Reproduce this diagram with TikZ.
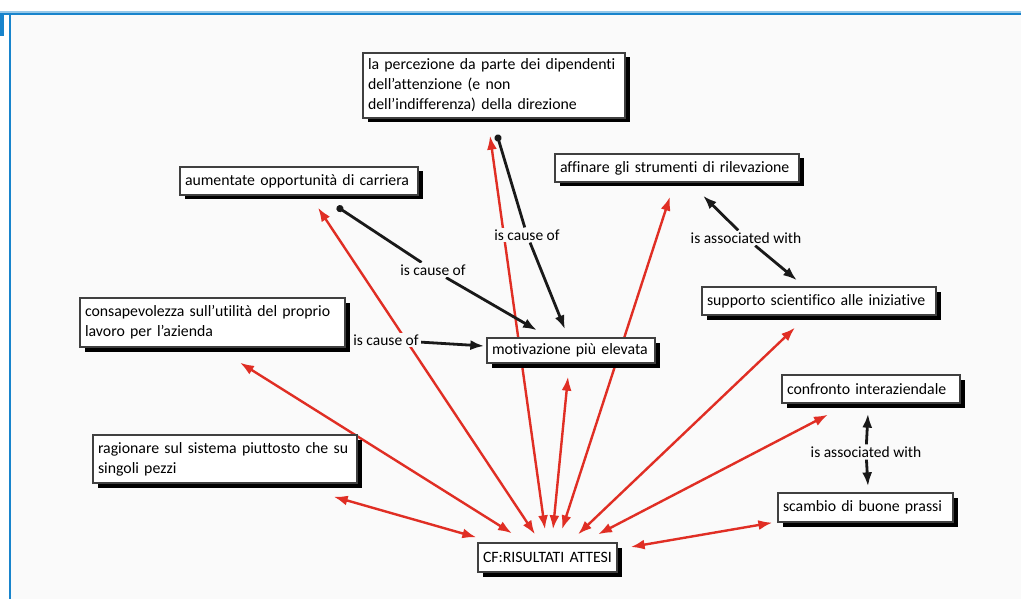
\documentclass[tikz,border=0pt]{standalone}
\usepackage{fontspec}
\setmainfont{Carlito}[Ligatures=NoCommon]
\usetikzlibrary{arrows.meta,shadows,calc}
\definecolor{cred}{RGB}{224,46,36}
\definecolor{fblue}{RGB}{24,132,204}
\definecolor{bgc}{RGB}{250,250,250}
\pgfdeclarelayer{bg}
\pgfdeclarelayer{frame}
\pgfsetlayers{frame,bg,main}
\begin{document}
\begin{tikzpicture}[x=1pt,y=-1pt,
  box/.style={draw=black!75, line width=1.3pt, fill=white, inner xsep=5pt, inner ysep=2pt,
    align=left, font=\fontsize{15.8}{20}\selectfont,
    drop shadow={shadow xshift=4.5pt, shadow yshift=-4.5pt, fill=black, opacity=1}},
  lbl/.style={font=\fontsize{15.5}{17}\selectfont, inner sep=2pt, fill=bgc},
  rline/.style={draw=cred, line width=2.4pt, {Latex[length=14pt,width=10pt]}-{Latex[length=14pt,width=10pt]}},
  bline/.style={draw=black!90, line width=2.8pt, -{Latex[length=14pt,width=10pt]}},
  dotstart/.style={draw=black!90, line width=2.8pt, {Circle[length=7pt]}-}
]
\useasboundingbox (0,0) rectangle (1021,599);
% frame
\begin{pgfonlayer}{frame}
\fill[bgc] (11,15) rectangle (1021,599);
\fill[fblue!45] (0,11.5) rectangle (1021,12.8);
\fill[fblue] (0,12.8) rectangle (1021,15);
\fill[fblue] (9,13) rectangle (11,599);
\fill[fblue] (0,13) rectangle (3.5,36);
\end{pgfonlayer}

% boxes
\node[box, text width=252pt, minimum height=65pt] (perc) at (494,85.5)
  {la percezione da parte dei dipendenti\\dell'attenzione (e non\\dell'indifferenza) della direzione};
\node[box, text width=228pt, minimum height=28pt] (aum) at (299,181) {aumentate opportunità di carriera};
\node[box, text width=234pt, minimum height=28pt] (aff) at (677,168) {affinare gli strumenti di rilevazione};
\node[box, text width=224pt, minimum height=28pt] (sup) at (819,301) {supporto scientifico alle iniziative};
\node[box, text width=255pt, minimum height=49pt] (cons) at (212.5,322.5)
  {consapevolezza sull'utilità del proprio\\lavoro per l'azienda};
\node[box, text width=254pt, minimum height=48pt] (rag) at (225,459)
  {ragionare sul sistema piuttosto che su\\singoli pezzi};
\node[box, text width=158pt, minimum height=25pt] (mot) at (571,350.5) {motivazione più elevata};
\node[box, text width=129pt, minimum height=29pt] (cf) at (547.5,557.5) {CF:RISULTATI ATTESI};
\node[box, text width=168pt, minimum height=28pt] (conf) at (871,389) {confronto interaziendale};
\node[box, text width=165pt, minimum height=29pt] (scam) at (865.5,507.5) {scambio di buone prassi};

% labels
\node[lbl] (l1) at (527,235) {is cause of};
\node[lbl] (l2) at (433,270) {is cause of};
\node[lbl] (l3) at (386,340) {is cause of};
\node[lbl] (l4) at (746,238) {is associated with};
\node[lbl] (l5) at (866,452) {is associated with};

\begin{pgfonlayer}{bg}
% red connectors
\draw[rline] ($(rag.south east)+(-24,13)$) -- ($(cf.north west)+(-1,-5)$);
\draw[rline] ($(cons.south)+(27.5,15)$) -- ($(cf.north)+(-35.5,-9)$);
\draw[rline] ($(aum.south)+(19,12)$) -- ($(cf.north)+(-12.5,-8)$);
\draw[rline] ($(perc.south)+(-4,17)$) -- ($(cf.north)+(-2.5,-13)$);
\draw[rline] ($(mot.south)+(-3,13)$) -- ($(cf.north)+(5.5,-13)$);
\draw[rline] ($(aff.south)+(-7,14)$) -- ($(cf.north)+(14.5,-13)$);
\draw[rline] ($(sup.south)+(-24,12)$) -- ($(cf.north)+(30.5,-8)$);
\draw[rline] ($(conf.south)+(-43,11)$) -- ($(cf.north)+(50.5,-8)$);
\draw[rline] ($(scam.south west)+(-5,0)$) -- ($(cf.east)+(13,-10.5)$);
% black connectors
\draw[dotstart] ($(perc.south)+(3,16)$) -- (l1);
\draw[bline] (l1) -- ($(mot.north)+(-6,-8)$);
\draw[dotstart] ($(aum.south)+(38,11)$) -- (l2);
\draw[bline] (l2) -- ($(mot.north)+(-34,-7)$);
\draw[bline] (l3) -- ($(mot.west)+(-2,-4.5)$);
\draw[bline] (l4) -- ($(aff.south)+(26,13)$);
\draw[bline] (l4) -- ($(sup.north)+(-22,-6)$);
\draw[bline] (l5) -- ($(conf.south)+(-3,10)$);
\draw[bline] (l5) -- ($(scam.north)+(2.5,-6)$);
\end{pgfonlayer}
\end{tikzpicture}
\end{document}
